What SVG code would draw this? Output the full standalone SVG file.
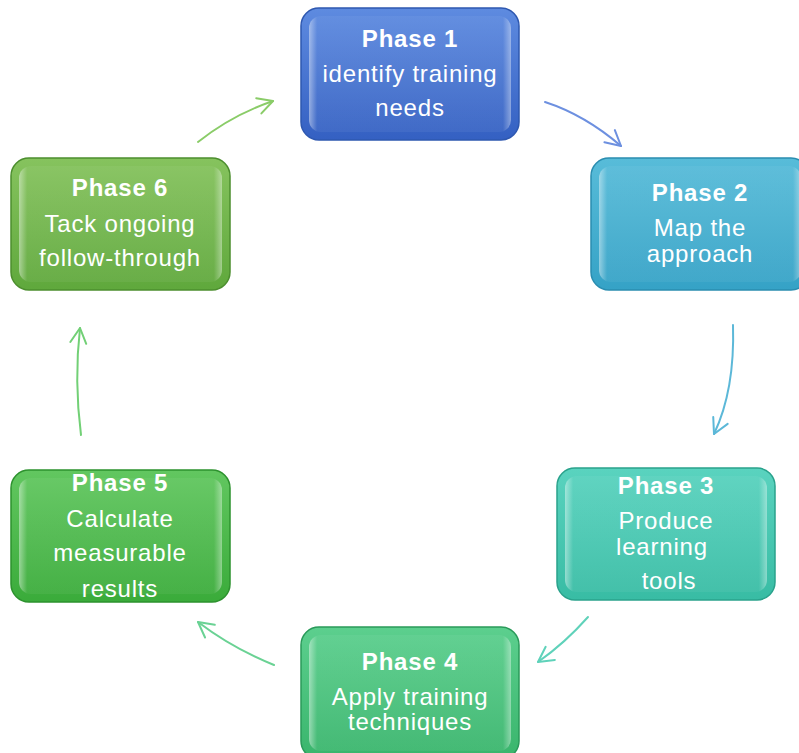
<svg xmlns="http://www.w3.org/2000/svg" width="799" height="753" viewBox="0 0 799 753">
<defs>
<style>
.box{stroke-width:1.5}
.t{font-family:"Liberation Sans",Arial,sans-serif;font-size:24px;fill:#ffffff;text-anchor:middle;letter-spacing:0.8px}
.b{font-weight:bold}
.c{fill:none;stroke-width:2;stroke-linecap:round}
</style>
<linearGradient id="g1" x1="0" y1="0" x2="0" y2="1"><stop offset="0" stop-color="#5e8be0"/><stop offset="1" stop-color="#3460c2"/></linearGradient>
<linearGradient id="g2" x1="0" y1="0" x2="0" y2="1"><stop offset="0" stop-color="#58bcd9"/><stop offset="1" stop-color="#35a2c6"/></linearGradient>
<linearGradient id="g3" x1="0" y1="0" x2="0" y2="1"><stop offset="0" stop-color="#5ad3bf"/><stop offset="1" stop-color="#38bca4"/></linearGradient>
<linearGradient id="g4" x1="0" y1="0" x2="0" y2="1"><stop offset="0" stop-color="#5ccf8e"/><stop offset="1" stop-color="#39b56c"/></linearGradient>
<linearGradient id="g5" x1="0" y1="0" x2="0" y2="1"><stop offset="0" stop-color="#62c760"/><stop offset="1" stop-color="#3aab3a"/></linearGradient>
<linearGradient id="g6" x1="0" y1="0" x2="0" y2="1"><stop offset="0" stop-color="#86c35e"/><stop offset="1" stop-color="#5fa83c"/></linearGradient>
<linearGradient id="gloss" x1="0" y1="0" x2="1" y2="0">
<stop offset="0" stop-color="#ffffff" stop-opacity="0.45"/>
<stop offset="0.04" stop-color="#ffffff" stop-opacity="0.05"/>
<stop offset="0.96" stop-color="#ffffff" stop-opacity="0.05"/>
<stop offset="1" stop-color="#ffffff" stop-opacity="0.4"/>
</linearGradient>
<marker id="m1" markerUnits="userSpaceOnUse" markerWidth="24" markerHeight="24" refX="0" refY="0" viewBox="-18 -12 24 24" orient="auto" overflow="visible"><path d="M-15,-8 L0,0 L-15,8" fill="none" stroke="#6d90e0" stroke-width="2" stroke-linecap="round" stroke-linejoin="round"/></marker>
<marker id="m2" markerUnits="userSpaceOnUse" markerWidth="24" markerHeight="24" refX="0" refY="0" viewBox="-18 -12 24 24" orient="auto" overflow="visible"><path d="M-15,-8 L0,0 L-15,8" fill="none" stroke="#5cb8d8" stroke-width="2" stroke-linecap="round" stroke-linejoin="round"/></marker>
<marker id="m3" markerUnits="userSpaceOnUse" markerWidth="24" markerHeight="24" refX="0" refY="0" viewBox="-18 -12 24 24" orient="auto" overflow="visible"><path d="M-15,-8 L0,0 L-15,8" fill="none" stroke="#5fd2ba" stroke-width="2" stroke-linecap="round" stroke-linejoin="round"/></marker>
<marker id="m4" markerUnits="userSpaceOnUse" markerWidth="24" markerHeight="24" refX="0" refY="0" viewBox="-18 -12 24 24" orient="auto" overflow="visible"><path d="M-15,-8 L0,0 L-15,8" fill="none" stroke="#6ad294" stroke-width="2" stroke-linecap="round" stroke-linejoin="round"/></marker>
<marker id="m5" markerUnits="userSpaceOnUse" markerWidth="24" markerHeight="24" refX="0" refY="0" viewBox="-18 -12 24 24" orient="auto" overflow="visible"><path d="M-15,-8 L0,0 L-15,8" fill="none" stroke="#72d076" stroke-width="2" stroke-linecap="round" stroke-linejoin="round"/></marker>
<marker id="m6" markerUnits="userSpaceOnUse" markerWidth="24" markerHeight="24" refX="0" refY="0" viewBox="-18 -12 24 24" orient="auto" overflow="visible"><path d="M-15,-8 L0,0 L-15,8" fill="none" stroke="#8acc68" stroke-width="2" stroke-linecap="round" stroke-linejoin="round"/></marker>
</defs>
<rect width="799" height="753" fill="#ffffff"/>
<g id="connectors">
<path class="c" stroke="#6d90e0" d="M545,102 Q585,115 621,146" marker-end="url(#m1)"/>
<path class="c" stroke="#5cb8d8" d="M733,325 Q735,390 714,434" marker-end="url(#m2)"/>
<path class="c" stroke="#5fd2ba" d="M588,617 Q565,643 538,662" marker-end="url(#m3)"/>
<path class="c" stroke="#6ad294" d="M274,665 Q232,648 198,622" marker-end="url(#m4)"/>
<path class="c" stroke="#72d076" d="M81,435 Q74,380 80,328" marker-end="url(#m5)"/>
<path class="c" stroke="#8acc68" d="M198,142 Q232,115 273,101" marker-end="url(#m6)"/>
</g>
<g id="node1">
<rect class="box" x="301" y="8" width="218" height="132" rx="18" fill="url(#g1)" stroke="#2e58b0"/>
<rect x="309" y="16" width="202" height="116" rx="12" fill="url(#gloss)"/>
<text class="t b" x="410" y="47">Phase 1</text>
<text class="t" x="410" y="82">identify training</text>
<text class="t" x="410" y="116">needs</text>
</g>
<g id="node2">
<rect class="box" x="591" y="158" width="218" height="132" rx="18" fill="url(#g2)" stroke="#2a8db0"/>
<rect x="599" y="166" width="202" height="116" rx="12" fill="url(#gloss)"/>
<text class="t b" x="700" y="201">Phase 2</text>
<text class="t" x="700" y="236">Map the</text>
<text class="t" x="700" y="262">approach</text>
</g>
<g id="node3">
<rect class="box" x="557" y="468" width="218" height="132" rx="18" fill="url(#g3)" stroke="#2aa28c"/>
<rect x="565" y="476" width="202" height="116" rx="12" fill="url(#gloss)"/>
<text class="t b" x="666" y="494">Phase 3</text>
<text class="t" x="666" y="529">Produce</text>
<text class="t" x="662" y="555">learning</text>
<text class="t" x="669" y="589">tools</text>
</g>
<g id="node4">
<rect class="box" x="301" y="627" width="218" height="132" rx="18" fill="url(#g4)" stroke="#2a9a5a"/>
<rect x="309" y="635" width="202" height="116" rx="12" fill="url(#gloss)"/>
<text class="t b" x="410" y="670">Phase 4</text>
<text class="t" x="410" y="705">Apply training</text>
<text class="t" x="410" y="730">techniques</text>
</g>
<g id="node5">
<rect class="box" x="11" y="470" width="219" height="132" rx="18" fill="url(#g5)" stroke="#2d922e"/>
<rect x="19" y="478" width="203" height="116" rx="12" fill="url(#gloss)"/>
<text class="t b" x="120" y="491">Phase 5</text>
<text class="t" x="120" y="527">Calculate</text>
<text class="t" x="120" y="561">measurable</text>
<text class="t" x="120" y="597">results</text>
</g>
<g id="node6">
<rect class="box" x="11" y="158" width="219" height="132" rx="18" fill="url(#g6)" stroke="#4c8e2e"/>
<rect x="19" y="166" width="203" height="116" rx="12" fill="url(#gloss)"/>
<text class="t b" x="120" y="196">Phase 6</text>
<text class="t" x="120" y="232">Tack ongoing</text>
<text class="t" x="120" y="266">follow-through</text>
</g>
</svg>
